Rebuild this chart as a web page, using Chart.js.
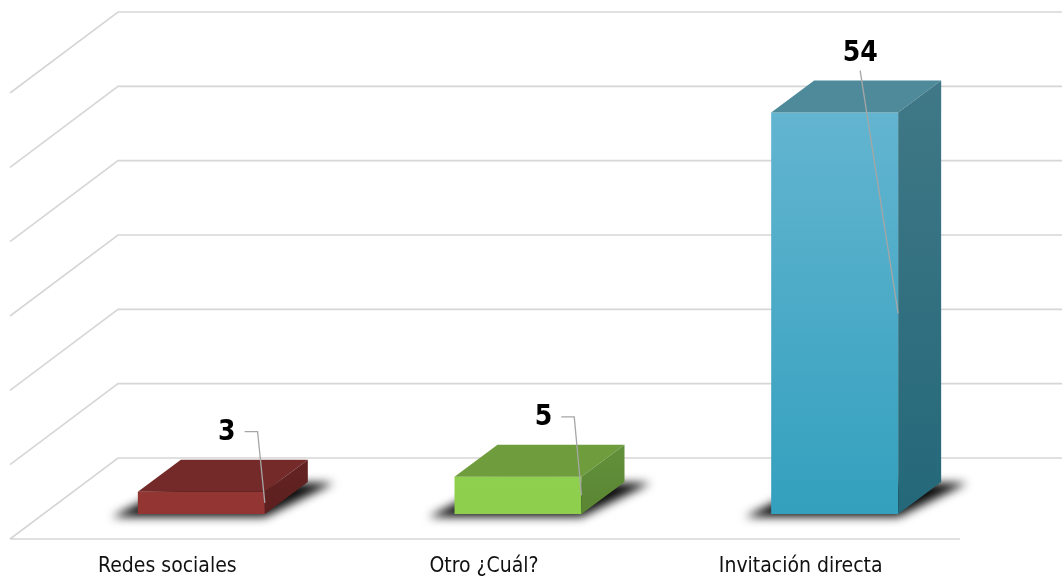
<!DOCTYPE html>
<html>
<head>
<meta charset="utf-8">
<script src="https://cdn.jsdelivr.net/npm/chart.js@4.4.1/dist/chart.umd.min.js"></script>
<style>
  html, body { margin: 0; padding: 0; background: #fff; }
  #wrap { width: 1062px; height: 581px; }
</style>
</head>
<body>
<div id="wrap"><canvas id="fuenteGraph" width="1062" height="581"></canvas></div>
<script>
const categories = ["Redes sociales", "Otro ¿Cuál?", "Invitación directa"];
const values = [3, 5, 54];
const gridTicks = [0, 10, 20, 30, 40, 50, 60];

// colours per bar: front (top, bottom), top face, side (top, bottom)
const frontColors = [["#983a38", "#933533"], ["#94d254", "#8fcf4e"], ["#68b7d2", "#33a0be"]];
const topColors = ["#732a29", "#6f9d3d", "#4f8a9b"];
const sideColors = [["#632322", "#5c201f"], ["#61903a", "#5b8633"], ["#407887", "#246879"]];

const FONT = '"DejaVu Sans Condensed", "DejaVu Sans", sans-serif';
const BAR_DX = 43, BAR_DY = 32;      // depth of a bar
const FLOOR_DX = 33, FLOOR_DY = 25;  // front edge of floor, in front of the bars
const WALL_DX = 75, WALL_DY = 56;    // back wall, behind the bars

const box3d = {
  id: "box3d",
  beforeDatasetsDraw(chart) {
    const { ctx, chartArea, scales } = chart;
    const y = scales.y;
    const wallX = chartArea.left + WALL_DX;
    ctx.save();
    ctx.strokeStyle = "#d6d6d6";
    ctx.lineWidth = 1.6;
    gridTicks.forEach((t) => {
      const py = y.getPixelForValue(t) - WALL_DY;
      ctx.beginPath();
      ctx.moveTo(chart.width, py);
      ctx.lineTo(wallX, py);
      ctx.lineTo(wallX - WALL_DX - FLOOR_DX, py + WALL_DY + FLOOR_DY);
      ctx.stroke();
    });
    // front edge of the floor
    const fy = y.getPixelForValue(0) + FLOOR_DY;
    ctx.beginPath();
    ctx.moveTo(chartArea.left - FLOOR_DX, fy);
    ctx.lineTo(chartArea.right - FLOOR_DX, fy);
    ctx.stroke();

    // soft shadows on the floor
    const meta = chart.getDatasetMeta(0);
    meta.data.forEach((bar) => {
      const x1 = bar.x - bar.width / 2, x2 = bar.x + bar.width / 2, b = bar.base;
      ctx.save();
      ctx.filter = "blur(5px)";
      ctx.fillStyle = "rgba(0,0,0,0.95)";
      ctx.beginPath();
      ctx.moveTo(x1 - 26, b + 3);
      ctx.lineTo(x2, b + 3);
      ctx.lineTo(x2 + BAR_DX + 26, b - BAR_DY + 1);
      ctx.lineTo(x1 + BAR_DX, b - BAR_DY);
      ctx.closePath();
      ctx.fill();
      ctx.restore();
    });
    ctx.restore();
  },
  afterDatasetsDraw(chart) {
    const { ctx } = chart;
    const meta = chart.getDatasetMeta(0);
    ctx.save();
    meta.data.forEach((bar, i) => {
      const x1 = bar.x - bar.width / 2, x2 = bar.x + bar.width / 2;
      const top = bar.y, b = bar.base;
      // top face
      ctx.fillStyle = topColors[i];
      ctx.beginPath();
      ctx.moveTo(x1, top);
      ctx.lineTo(x1 + BAR_DX, top - BAR_DY);
      ctx.lineTo(x2 + BAR_DX, top - BAR_DY);
      ctx.lineTo(x2, top);
      ctx.closePath();
      ctx.fill();
      // side face
      const g = ctx.createLinearGradient(0, top - BAR_DY, 0, b);
      g.addColorStop(0, sideColors[i][0]);
      g.addColorStop(1, sideColors[i][1]);
      ctx.fillStyle = g;
      ctx.beginPath();
      ctx.moveTo(x2, top);
      ctx.lineTo(x2 + BAR_DX, top - BAR_DY);
      ctx.lineTo(x2 + BAR_DX, b - BAR_DY);
      ctx.lineTo(x2, b);
      ctx.closePath();
      ctx.fill();
    });

    // value labels with leader lines
    ctx.font = "bold 28px " + FONT;
    ctx.textAlign = "center";
    ctx.textBaseline = "middle";
    meta.data.forEach((bar, i) => {
      const x2 = bar.x + bar.width / 2;
      const ex = x2, ey = (bar.y + bar.base) / 2;
      const lx = x2 - 38, ly = bar.y - 59;
      const txt = String(values[i]);
      const w = ctx.measureText(txt).width;
      ctx.strokeStyle = "#a6a6a6";
      ctx.lineWidth = 1.3;
      ctx.beginPath();
      if (ey - ly > 120) {
        ctx.moveTo(lx, ly + 17);
      } else {
        ctx.moveTo(lx + w / 2 + 9, ly - 1);
        ctx.lineTo(lx + w / 2 + 22, ly - 1);
      }
      ctx.lineTo(ex, ey);
      ctx.stroke();
      ctx.fillStyle = "#000";
      ctx.fillText(txt, lx, ly);
    });

    // category labels along the front edge of the floor
    ctx.font = "21px " + FONT;
    ctx.fillStyle = "#111";
    meta.data.forEach((bar, i) => {
      ctx.fillText(categories[i], bar.x - FLOOR_DX - 1, bar.base + 53);
    });
    ctx.restore();
  },
};

const canvas = document.querySelector("#fuenteGraph");
const fuenteChart = new Chart(canvas, {
  type: "bar",
  data: {
    labels: categories,
    datasets: [
      {
        label: "Fuente",
        data: values,
        backgroundColor: (c) => {
          const area = c.chart.chartArea;
          if (!area) return frontColors[c.dataIndex][1];
          const g = c.chart.ctx.createLinearGradient(0, area.top, 0, area.bottom);
          g.addColorStop(0, frontColors[c.dataIndex][0]);
          g.addColorStop(1, frontColors[c.dataIndex][1]);
          return g;
        },
        borderWidth: 0,
        categoryPercentage: 1,
        barPercentage: 0.401,
      },
    ],
  },
  options: {
    responsive: false,
    animation: false,
    layout: {
      padding: { left: 43, right: 69, top: 68, bottom: 67 },
    },
    scales: {
      x: { display: false },
      y: { display: false, min: 0, max: 60 },
    },
    plugins: {
      legend: { display: false },
      tooltip: { enabled: false },
    },
  },
  plugins: [box3d],
});
</script>
</body>
</html>
